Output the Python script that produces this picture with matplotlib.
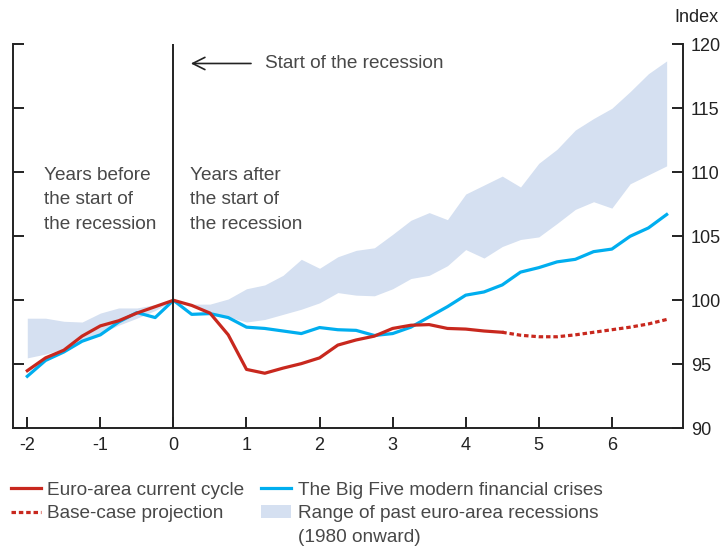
import numpy as np
import matplotlib.pyplot as plt
from matplotlib.lines import Line2D

# quarters relative to start of recession
quarters = np.arange(-8, 28) / 4.0

euro_q = np.arange(-8, 19) / 4.0
euro = [94.5, 95.5, 96.1, 97.2, 98.0, 98.4, 99.0, 99.5, 100.0,
        99.6, 99.0, 97.3, 94.6, 94.3, 94.7, 95.05, 95.5, 96.5, 96.9,
        97.2, 97.8, 98.05, 98.1, 97.8, 97.75, 97.6, 97.5]

proj_q = np.arange(18, 28) / 4.0
proj = [97.5, 97.27, 97.15, 97.15, 97.3, 97.5, 97.7, 97.9, 98.15, 98.5]

big_five = [94.06, 95.3, 95.96, 96.8, 97.3, 98.3, 99.04, 98.65, 100.0,
            98.9, 98.96, 98.65, 97.9, 97.8, 97.6, 97.4, 97.87, 97.7, 97.65,
            97.25, 97.4, 97.9, 98.7, 99.5, 100.4, 100.65, 101.2, 102.2,
            102.55, 103.0, 103.2, 103.8, 104.0, 105.0, 105.65, 106.7]

range_hi = [98.6, 98.6, 98.36, 98.3, 99.0, 99.4, 99.4, 99.66, 100.0,
            99.7, 99.7, 100.1, 100.9, 101.2, 101.95, 103.2, 102.5, 103.4, 103.9,
            104.1, 105.15, 106.25, 106.85, 106.3, 108.3, 109.0, 109.7, 108.85,
            110.7, 111.8, 113.3, 114.2, 115.0, 116.3, 117.7, 118.7]
range_lo = [95.5, 95.8, 96.2, 96.9, 97.4, 98.05, 98.6, 99.2, 100.0,
            99.6, 99.1, 98.7, 98.3, 98.5, 98.9, 99.3, 99.8, 100.6, 100.4,
            100.35, 100.9, 101.7, 101.95, 102.7, 103.96, 103.3, 104.2, 104.75,
            104.95, 106.0, 107.1, 107.7, 107.2, 109.1, 109.8, 110.5]

red = '#C8281E'
blue = '#00AEEF'
band = '#D5E0F1'
txt = '#484848'

plt.rcParams['font.family'] = ['Liberation Sans', 'DejaVu Sans']
plt.rcParams['font.size'] = 13.7
plt.rcParams['axes.unicode_minus'] = False

fig = plt.figure(figsize=(7.24, 5.46), dpi=100)
ax = fig.add_axes([0.0175, 0.2156, 0.9255, 0.7033])

ax.fill_between(quarters, range_lo, range_hi, color=band, lw=0,
                label='Range of past euro-area recessions')
ax.plot(quarters, big_five, color=blue, lw=2.3,
        label='The Big Five modern financial crises')
ax.plot(euro_q, euro, color=red, lw=2.3, label='Euro-area current cycle')
ax.plot(proj_q, proj, color=red, lw=2.3, ls=(0, (1.4, 0.9)),
        label='Base-case projection')
ax.axvline(0, color='#222222', lw=1.4)

ax.set_xlim(-2.2, 6.97)
ax.set_ylim(90, 120)
ax.set_xticks(range(-2, 7))
ax.set_yticks(range(90, 121, 5))

for s in ['left', 'right', 'bottom']:
    ax.spines[s].set_color('#222222')
    ax.spines[s].set_linewidth(1.4)
ax.spines['top'].set_visible(False)
ax.tick_params(axis='x', direction='in', length=8, width=1.4, color='#222222',
               labelcolor='#222222', labelsize=13, pad=6)
ax.tick_params(axis='y', direction='in', length=8, width=1.4, color='#222222',
               left=True, right=True, labelleft=False, labelright=True,
               labelcolor='#222222', labelsize=13, pad=6)

ax.annotate('', xy=(0.2, 118.5), xytext=(1.1, 118.5),
            arrowprops=dict(arrowstyle='->', color='#222222', lw=1.2,
                            mutation_scale=22))
ax.text(1.25, 118.5, 'Start of the recession', color=txt, va='center', ha='left')
ax.text(-1.77, 107.85, 'Years before\nthe start of\nthe recession', color=txt,
        va='center', ha='left', linespacing=1.58)
ax.text(0.22, 107.85, 'Years after\nthe start of\nthe recession', color=txt,
        va='center', ha='left', linespacing=1.58)
fig.text(0.993, 0.968, 'Index', color='#222222', ha='right', va='center',
         fontsize=13)

# legend: two columns, third row only holds the wrapped part of the band label
h, l = ax.get_legend_handles_labels()
blank = Line2D([], [], alpha=0)
handles = [h[2], h[3], blank, h[1], h[0], blank]
labels = [l[2], l[3], '', l[1], l[0], '(1980 onward)']
leg = fig.legend(handles, labels, ncol=2,
                 loc='upper left', bbox_to_anchor=(0.015, 0.118), frameon=False,
                 handlelength=1.57, handletextpad=0.34, columnspacing=0.9,
                 labelspacing=0.33, borderaxespad=0, borderpad=0)
for t in leg.get_texts():
    t.set_color(txt)

fig.savefig('out.png', dpi=100)
